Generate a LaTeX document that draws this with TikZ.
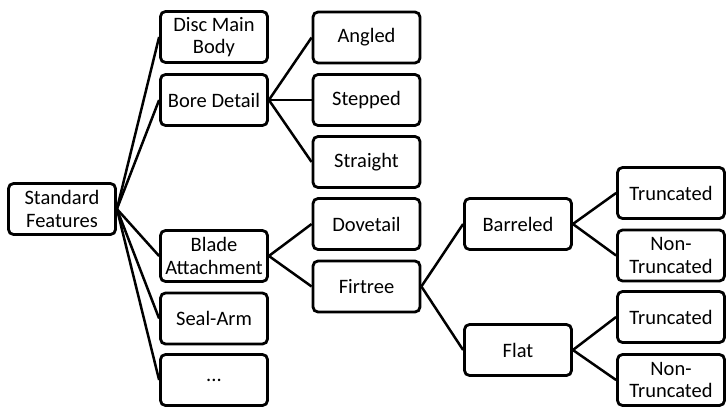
\documentclass[tikz,border=0pt]{standalone}
\usepackage{fontspec}
\setmainfont{Carlito}
\begin{document}
\begin{tikzpicture}[x=1pt,y=-1pt,
  box/.style={draw=black, line width=2.8pt, rounded corners=5pt, fill=white,
    minimum width=107pt, minimum height=51pt, inner sep=1pt, align=center,
    font=\fontsize{20.5pt}{22.5pt}\selectfont},
  link/.style={line width=2.5pt}]
\useasboundingbox (0,0) rectangle (727,409);
\node[box] (sf) at (62,209) {Standard\\Features};
\node[box] (dmb) at (214,37) {Disc Main\\Body};
\node[box] (bd) at (214,100) {Bore Detail};
\node[box] (ba) at (214,256) {Blade\\Attachment};
\node[box] (sa) at (214,318.5) {Seal-Arm};
\node[box] (dots) at (214,380) {...};
\node[box] (ang) at (366.5,37.5) {Angled};
\node[box] (stp) at (366.5,100) {Stepped};
\node[box] (str) at (366.5,162) {Straight};
\node[box] (dov) at (366.5,224) {Dovetail};
\node[box] (fir) at (366.5,286.5) {Firtree};
\node[box] (bar) at (518,224) {Barreled};
\node[box] (flat) at (518,350) {Flat};
\node[box] (t1) at (671,193) {Truncated};
\node[box] (nt1) at (671,255.5) {Non-\\Truncated};
\node[box] (t2) at (671,317) {Truncated};
\node[box] (nt2) at (671,380) {Non-\\Truncated};
\foreach \c in {dmb,bd,ba,sa,dots} \draw[link] (sf.east) -- (\c.west);
\foreach \c in {ang,stp,str} \draw[link] (bd.east) -- (\c.west);
\foreach \c in {dov,fir} \draw[link] (ba.east) -- (\c.west);
\foreach \c in {bar,flat} \draw[link] (fir.east) -- (\c.west);
\foreach \c in {t1,nt1} \draw[link] (bar.east) -- (\c.west);
\foreach \c in {t2,nt2} \draw[link] (flat.east) -- (\c.west);
\end{tikzpicture}
\end{document}
